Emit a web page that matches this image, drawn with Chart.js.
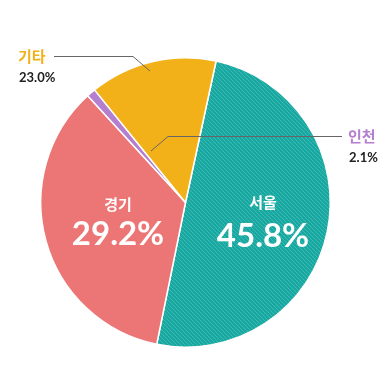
<!DOCTYPE html>
<html>
<head>
<meta charset="utf-8">
<script src="https://cdn.jsdelivr.net/npm/chart.js@4/dist/chart.umd.min.js"></script>
<style>
  html, body { margin: 0; padding: 0; background: #fff; }
  #wrap { width: 391px; height: 369px; position: relative; }
</style>
</head>
<body>
<div id="wrap"><canvas id="pie" width="391" height="369"></canvas></div>
<script>
// regions, label text as printed, and slice sizes as drawn in the picture
const regions = ['서울', '경기', '인천', '기타'];
const shareLabels = ['45.8%', '29.2%', '2.1%', '23.0%'];
const sliceValues = [49.8, 35.0, 1.0, 14.2];
const colors = ['#17a8a1', '#ec7575', '#b57fcf', '#f2b118'];

function stripes(base, line) {
    let c = document.createElement('canvas');
    c.width = 4; c.height = 4;
    let g = c.getContext('2d');
    g.fillStyle = base;
    g.fillRect(0, 0, 4, 4);
    g.strokeStyle = line;
    g.lineWidth = 1;
    g.beginPath();
    g.moveTo(-1, -1); g.lineTo(5, 5);
    g.moveTo(-1, 3); g.lineTo(1, 5);
    g.moveTo(3, -1); g.lineTo(5, 1);
    g.stroke();
    return g.createPattern(c, 'repeat');
}

const labelPlugin = {
    id: 'labels',
    afterDraw(chart) {
        let ctx = chart.ctx;
        ctx.save();
        ctx.textBaseline = 'alphabetic';

        // inside labels
        ctx.fillStyle = '#fff';
        ctx.textAlign = 'center';
        ctx.font = 'bold 15px "Noto Sans CJK KR"';
        ctx.fillText(regions[0], 263, 208);
        ctx.fillText(regions[1], 118, 210);
        ctx.font = 'bold 33px Lato, "Noto Sans"';
        ctx.fillText(shareLabels[0], 263, 247);
        ctx.fillText(shareLabels[1], 118, 245);

        // leader lines
        ctx.strokeStyle = '#666';
        ctx.lineWidth = 1;
        ctx.beginPath();
        ctx.moveTo(54, 56.5); ctx.lineTo(133, 56.5); ctx.lineTo(150, 71);
        ctx.moveTo(151, 151); ctx.lineTo(168, 136.5); ctx.lineTo(342, 136.5);
        ctx.stroke();

        // outside labels
        ctx.textAlign = 'left';
        ctx.font = 'bold 15px "Noto Sans CJK KR"';
        ctx.fillStyle = colors[3];
        ctx.fillText(regions[3], 18, 62);
        ctx.fillStyle = colors[2];
        ctx.fillText(regions[2], 348, 142);
        ctx.fillStyle = '#222';
        ctx.font = 'bold 13px Lato, "Noto Sans"';
        ctx.fillText(shareLabels[3], 19, 82);
        ctx.fillText(shareLabels[2], 349, 162);
        ctx.restore();
    }
};

let ctx = document.getElementById('pie');
let bg = colors.slice();
bg[0] = stripes(colors[0], '#3fb8b2');
let pieChart = new Chart(ctx, {
    type: 'pie',
    data: {
        labels: regions,
        datasets: [{
            data: sliceValues,
            backgroundColor: bg,
            borderColor: '#fff',
            borderWidth: 1.5
        }]
    },
    options: {
        responsive: false,
        animation: false,
        events: [],
        rotation: 12.2,
        layout: { padding: { left: 40, right: 60, top: 57, bottom: 21 } },
        plugins: {
            legend: { display: false },
            tooltip: { enabled: false }
        }
    },
    plugins: [labelPlugin]
});
</script>
</body>
</html>
